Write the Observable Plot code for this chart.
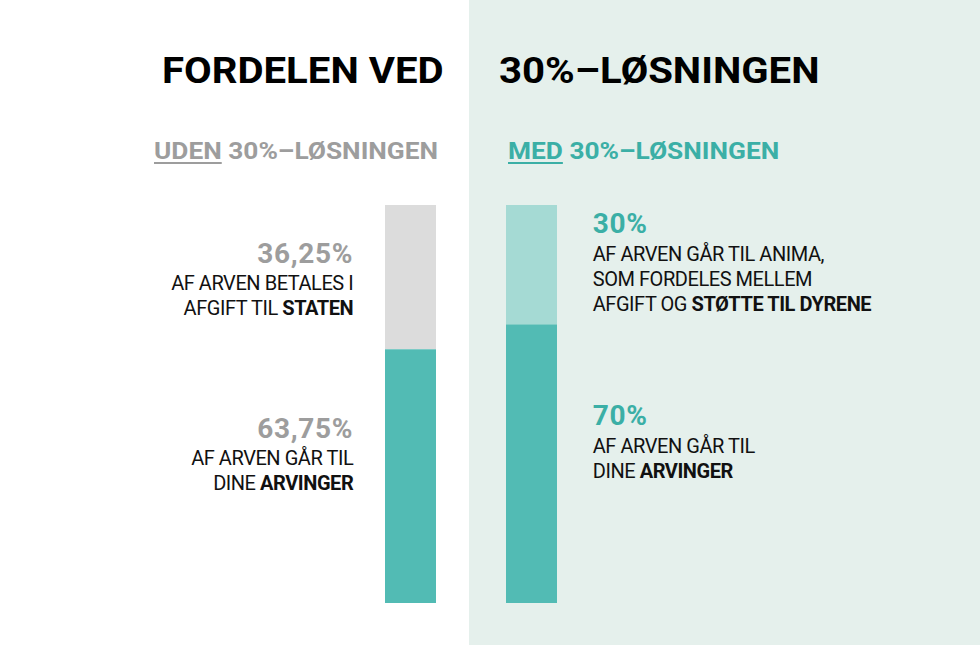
<!DOCTYPE html>
<html>
<head>
<meta charset="utf-8">
<script src="https://cdn.jsdelivr.net/npm/d3@7"></script>
<script src="https://cdn.jsdelivr.net/npm/@observablehq/plot@0.6"></script>
<style>
  html, body { margin: 0; padding: 0; background: #fff; }
  #wrap {
    position: relative; width: 980px; height: 645px; overflow: hidden;
    background: linear-gradient(to right, #ffffff 469px, #e5f0ec 469px);
    font-family: Roboto, "Open Sans", sans-serif;
  }
  .hdr { position: absolute; white-space: nowrap; line-height: 1; font-weight: 700; transform-origin: 0 0; }
  .title { font-size: 36px; color: #000; transform: scaleX(1.115); }
  .sub { font-size: 24px; transform: scaleX(1.095); }
  .sub u { text-decoration-thickness: 2px; text-underline-offset: 3px; }
  #chart { position: absolute; left: 0; top: 0; }
</style>
</head>
<body>
<div id="wrap">
  <div class="hdr title" id="t1" style="left:162px; top:53px;">FORDELEN VED</div>
  <div class="hdr title" id="t2" style="left:499px; top:53px;">30%–LØSNINGEN</div>
  <div class="hdr sub" id="s1" style="left:154px; top:139px; color:#9d9d9d;"><u>UDEN</u> 30%–LØSNINGEN</div>
  <div class="hdr sub" id="s2" style="left:508px; top:139px; color:#3bafa6;"><u>MED</u> 30%–LØSNINGEN</div>
  <div id="chart"></div>
</div>
<script>
// ---- data ----
const scenarios = ["UDEN", "MED"];
const topKeys = ["STATEN", "ANIMA"];
const topShare = [36.25, 30];
const bottomShare = [63.75, 70];
const topPctLabels = ["36,25%", "30%"];
const bottomPctLabels = ["63,75%", "70%"];
const topTexts = [
  "AF ARVEN BETALES I\nAFGIFT TIL **STATEN**",
  "AF ARVEN GÅR TIL ANIMA,\nSOM FORDELES MELLEM\nAFGIFT OG **STØTTE TIL DYRENE**"
];
const bottomTexts = [
  "AF ARVEN GÅR TIL\nDINE **ARVINGER**",
  "AF ARVEN GÅR TIL\nDINE **ARVINGER**"
];

// ---- derived table ----
const segments = [];
scenarios.forEach((s, i) => {
  segments.push({scenario: s, key: topKeys[i], y1: bottomShare[i], y2: bottomShare[i] + topShare[i],
    pct: topPctLabels[i], text: topTexts[i], part: "top"});
  segments.push({scenario: s, key: "ARVINGER", y1: 0, y2: bottomShare[i],
    pct: bottomPctLabels[i], text: bottomTexts[i], part: "bottom"});
});
segments.forEach(d => d.mid = (d.y1 + d.y2) / 2);

// ---- styles / layout ----
const grey = "#9d9d9d", teal = "#3bafa6";
const pctColor = {UDEN: grey, MED: teal};
const labelOffset = { // vertical offset (px) of label block from segment midpoint
  "UDEN-top": -35, "UDEN-bottom": -59, "MED-top": -52, "MED-bottom": -59
};
const bandHalf = 25.75;

const labelMarks = segments.flatMap(d => {
  const left = d.scenario === "UDEN";
  const dx = left ? -(bandHalf + 32) : (bandHalf + 35);
  const anchor = left ? "end" : "start";
  const off = labelOffset[d.scenario + "-" + d.part];
  return [
    Plot.text([d], {x: "scenario", y: "mid", text: "pct", textAnchor: anchor, lineAnchor: "top",
      dx, dy: off, fontSize: 28, fontWeight: 700, fill: pctColor[d.scenario]}),
    Plot.text([d], {x: "scenario", y: "mid", text: "text", textAnchor: anchor, lineAnchor: "top",
      dx, dy: off + 30, fontSize: 20, lineHeight: 25 / 20, fill: "#111"})
  ];
});

const chart = Plot.plot({
  width: 980,
  height: 645,
  marginTop: 205,
  marginBottom: 42,
  marginLeft: 385,
  marginRight: 422,
  style: {fontFamily: "Roboto, sans-serif", background: "transparent", overflow: "visible"},
  x: {domain: scenarios, paddingInner: 0.576, paddingOuter: 0, axis: null},
  y: {domain: [0, 100], axis: null},
  color: {domain: ["STATEN", "ANIMA", "ARVINGER"], range: ["#dcdcdc", "#a5dad4", "#52bbb4"]},
  marks: [
    Plot.barY(segments, {x: "scenario", y1: "y1", y2: "y2", fill: "key"}),
    ...labelMarks
  ]
});
document.getElementById("chart").appendChild(chart);

// bold markup (**word**) inside text lines; letter spacing per text kind
const svgNS = "http://www.w3.org/2000/svg";
chart.querySelectorAll("text").forEach(textEl => {
  const tspans = textEl.querySelectorAll("tspan");
  const lines = tspans.length ? Array.from(tspans) : [textEl];
  lines.forEach(node => {
    const s = node.textContent;
    if (!s.includes("**")) return;
    node.textContent = "";
    s.split("**").forEach((part, i) => {
      if (!part) return;
      const sp = document.createElementNS(svgNS, "tspan");
      sp.textContent = part;
      if (i % 2 === 1) sp.setAttribute("font-weight", "700");
      node.appendChild(sp);
    });
  });
  textEl.setAttribute("letter-spacing", tspans.length ? "-0.45" : "0.7");
});
</script>
</body>
</html>
